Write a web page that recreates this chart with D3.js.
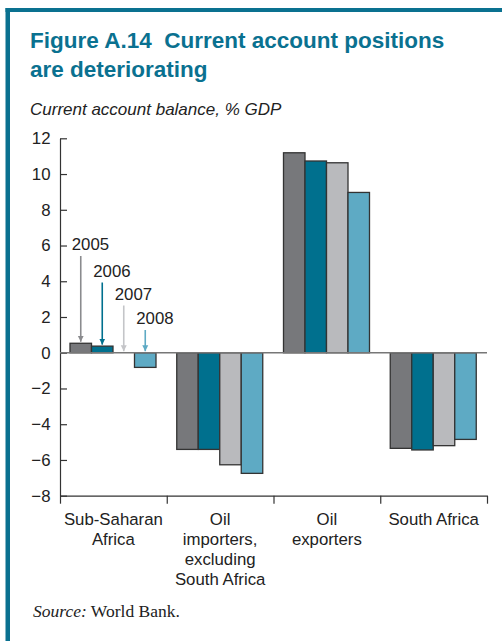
<!DOCTYPE html>
<html>
<head>
<meta charset="utf-8">
<script src="https://cdn.jsdelivr.net/npm/d3@7"></script>
<style>
	body { margin: 0; background: #fff; }
	svg { display: block; font-family: "Liberation Sans", Arial, sans-serif; }
	.axis path, .axis line { stroke: #333; stroke-width: 1.2; }
	.axis text { font-size: 16.8px; fill: #222; font-family: "Liberation Sans", Arial, sans-serif; }
</style>
</head>
<body>
<div id="chart"></div>
<script>
var categories = [
	['Sub-Saharan', 'Africa'],
	['Oil', 'importers,', 'excluding', 'South Africa'],
	['Oil', 'exporters'],
	['South Africa']
]
var years = ['2005', '2006', '2007', '2008']
var values2005 = [0.53, -5.41, 11.19, -5.35]
var values2006 = [0.37, -5.41, 10.73, -5.44]
var values2007 = [0.0, -6.27, 10.63, -5.20]
var values2008 = [-0.82, -6.75, 8.97, -4.85]
var yTicks = [-8, -6, -4, -2, 0, 2, 4, 6, 8, 10, 12]

var series = [values2005, values2006, values2007, values2008]
var colors = ['#77787b', '#00708e', '#b9babd', '#5eaac4']
var arrowColors = ['#8a8b8e', '#00708e', '#c4c5c8', '#5eaac4']

var width = 502, height = 641
var svg = d3.select('#chart').append('svg')
	.attr('width', width)
	.attr('height', height)

/* frame */
svg.append('rect').attr('x', 5.5).attr('y', 8).attr('width', 4.5).attr('height', height - 8).attr('fill', '#0a7190')
svg.append('rect').attr('x', 5.5).attr('y', 8).attr('width', width - 5.5).attr('height', 4).attr('fill', '#0a7190')

svg.append('text').attr('x', 30).attr('y', 48)
	.attr('font-size', '22.5px').attr('font-weight', 'bold').attr('fill', '#0a7190')
	.text('Figure A.14\u00a0\u00a0Current account positions')
svg.append('text').attr('x', 30).attr('y', 77)
	.attr('font-size', '22.5px').attr('font-weight', 'bold').attr('fill', '#0a7190')
	.text('are deteriorating')
svg.append('text').attr('x', 30).attr('y', 115)
	.attr('font-size', '17px').attr('font-style', 'italic').attr('fill', '#222')
	.text('Current account balance, % GDP')

var plotLeft = 60, plotRight = 487, plotTop = 138.3, plotBottom = 495.7

var x0 = d3.scaleBand()
	.domain(d3.range(categories.length))
	.range([plotLeft, plotRight])
	.padding(0)

var x1 = d3.scaleBand()
	.domain(years)
	.range([10, x0.bandwidth() - 10.75])
	.padding(0)

var y = d3.scaleLinear()
	.domain([-8, 12])
	.range([plotBottom, plotTop])

/* y axis, ticks point inward */
svg.append('g')
	.attr('class', 'axis')
	.attr('transform', 'translate(' + plotLeft + ',0)')
	.call(d3.axisLeft(y).tickValues(yTicks).tickSize(-7).tickSizeOuter(0).tickPadding(9.5))

/* bars */
var groups = svg.append('g').selectAll('g')
	.data(categories)
	.join('g')
	.attr('transform', function (d, i) { return 'translate(' + x0(i) + ',0)' })

groups.selectAll('rect')
	.data(function (d, i) {
		return years.map(function (yr, k) { return { year: yr, k: k, value: series[k][i] } })
	})
	.join('rect')
	.attr('x', function (d) { return x1(d.year) })
	.attr('width', x1.bandwidth())
	.attr('y', function (d) { return y(Math.max(0, d.value)) })
	.attr('height', function (d) { return Math.abs(y(d.value) - y(0)) })
	.attr('fill', function (d) { return colors[d.k] })
	.attr('stroke', '#333')
	.attr('stroke-width', 1.3)

/* zero line */
svg.append('line')
	.attr('x1', plotLeft).attr('x2', plotRight)
	.attr('y1', y(0)).attr('y2', y(0))
	.attr('stroke', '#777').attr('stroke-width', 1.3)

/* x axis with category dividers */
var xDiv = d3.scaleLinear().domain([0, categories.length]).range([plotLeft, plotRight])
svg.append('g')
	.attr('class', 'axis')
	.attr('transform', 'translate(0,' + plotBottom + ')')
	.call(d3.axisBottom(xDiv).tickValues(d3.range(categories.length + 1)).tickFormat('').tickSize(8).tickSizeOuter(0))

/* category labels */
var labels = svg.append('g').selectAll('text')
	.data(categories)
	.join('text')
	.attr('x', function (d, i) { return x0(i) + x0.bandwidth() / 2 })
	.attr('y', 525)
	.attr('text-anchor', 'middle')
	.attr('font-size', '16.8px')
	.attr('fill', '#222')
labels.selectAll('tspan')
	.data(function (d) { return d })
	.join('tspan')
	.attr('x', function () { return this.parentNode.getAttribute('x') })
	.attr('dy', function (d, i) { return i == 0 ? 0 : 20 })
	.text(function (d) { return d })

/* year callouts in first group */
var defs = svg.append('defs')
colors.forEach(function (c, k) {
	defs.append('marker')
		.attr('id', 'arr' + k)
		.attr('viewBox', '0 0 10 10')
		.attr('refX', 10).attr('refY', 5)
		.attr('markerWidth', 6).attr('markerHeight', 7)
		.attr('markerUnits', 'userSpaceOnUse')
		.attr('orient', 'auto')
		.append('path').attr('d', 'M0,0 L10,5 L0,10 z').attr('fill', arrowColors[k])
})
var labelBase = [250, 276.5, 299.5, 324]
var callouts = svg.append('g')
years.forEach(function (yr, k) {
	var cx = x0(0) + x1(yr) + x1.bandwidth() / 2
	var tip = y(Math.max(0, series[k][0])) - 1.5
	callouts.append('text')
		.attr('x', cx - 9).attr('y', labelBase[k])
		.attr('font-size', '16.8px').attr('fill', '#222')
		.text(yr)
	callouts.append('line')
		.attr('x1', cx).attr('x2', cx)
		.attr('y1', labelBase[k] + 6).attr('y2', tip)
		.attr('stroke', arrowColors[k]).attr('stroke-width', 1.6)
		.attr('marker-end', 'url(#arr' + k + ')')
})

/* source */
var src = svg.append('text').attr('x', 33).attr('y', 617)
	.attr('font-family', '"Liberation Serif", "Times New Roman", serif')
	.attr('font-size', '17.5px').attr('fill', '#222')
src.append('tspan').attr('font-style', 'italic').text('Source:')
src.append('tspan').text(' World Bank.')
</script>
</body>
</html>
